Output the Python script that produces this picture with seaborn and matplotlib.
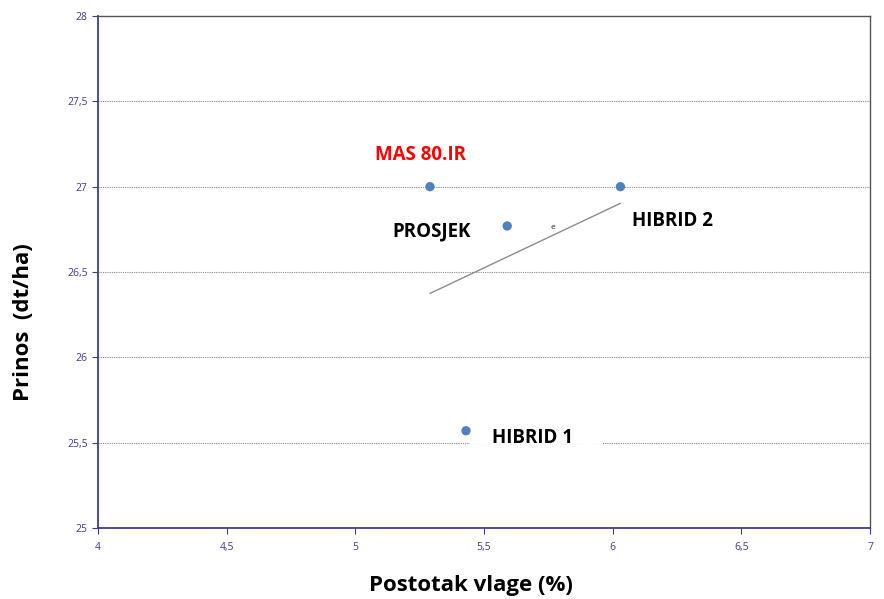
import pandas as pd
import matplotlib.pyplot as plt
import seaborn as sns
import numpy as np

# data
hibridi = ["MAS 80.IR", "HIBRID 2", "PROSJEK", "HIBRID 1"]
vlaga = [5.29, 6.03, 5.59, 5.43]
prinos = [27.0, 27.0, 26.77, 25.57]
x_ticks = [4, 4.5, 5, 5.5, 6, 6.5, 7]
y_ticks = [25, 25.5, 26, 26.5, 27, 27.5, 28]

data = pd.DataFrame({"hibrid": hibridi, "vlaga": vlaga, "prinos": prinos})

sns.set_style("white")
plt.rcParams['font.family'] = ['Open Sans', 'DejaVu Sans']

fig = plt.figure(figsize=(8.84, 5.99), dpi=100)
ax = fig.add_axes([0.1109, 0.1185, 0.8733, 0.8548])

navy = "#3c3c9a"

# dotted gridlines
for yv in y_ticks[1:-1]:
    ax.axhline(yv, color="#888888", lw=0.8, ls=(0, (1, 1)), zorder=0)

# trend line (linear regression)
sns.regplot(x="vlaga", y="prinos", data=data, scatter=False, ci=None,
            truncate=True, color="#8c8c8c", line_kws={"lw": 1.0, "zorder": 1}, ax=ax)

sns.scatterplot(x="vlaga", y="prinos", data=data, color="#4f81bd", s=45,
                edgecolor="none", zorder=3, ax=ax)

# point labels
label_pos = {"MAS 80.IR": (5.253, 27.186), "PROSJEK": (5.297, 26.74),
             "HIBRID 2": (6.234, 26.80), "HIBRID 1": (5.69, 25.53)}
for h in hibridi:
    lx, ly = label_pos[h]
    col = "#ff0000" if h == "MAS 80.IR" else "black"
    ax.text(lx, ly, h, color=col, fontsize=13.5, fontweight="bold",
            ha="center", va="center", zorder=4)
# white gap in the 25,5 gridline behind the HIBRID 1 label
ax.axhspan(25.49, 25.51, xmin=(5.445 - 4) / 3, xmax=(5.96 - 4) / 3,
           color="white", lw=0, zorder=0.5)
ax.text(5.768, 26.758, "e", fontsize=6, ha="center", va="center",
        bbox=dict(facecolor="white", edgecolor="none", pad=1), zorder=2)

ax.set_xlim(4, 7)
ax.set_ylim(25, 28)
ax.set_xticks(x_ticks)
ax.set_yticks(y_ticks)
ax.set_xticklabels([f"{t:g}".replace(".", ",") for t in x_ticks])
ax.set_yticklabels([f"{t:g}".replace(".", ",") for t in y_ticks])
ax.tick_params(axis="both", colors=navy, labelsize=7.5, length=4, width=0.8,
               direction="out", bottom=True, left=True)
ax.tick_params(axis="x", pad=6)

for s in ["left", "bottom"]:
    ax.spines[s].set_color(navy)
    ax.spines[s].set_linewidth(1.3)
for s in ["top", "right"]:
    ax.spines[s].set_color("#555555")
    ax.spines[s].set_linewidth(1.0)

ax.set_xlabel("Postotak vlage (%)", fontsize=16, fontweight="bold", color="black")
ax.set_ylabel("Prinos  (dt/ha)", fontsize=16, fontweight="bold", color="black")
ax.xaxis.set_label_coords(0.483, -0.092)
ax.yaxis.set_label_coords(-0.083, 0.402)

fig.savefig("out.png", dpi=100)
